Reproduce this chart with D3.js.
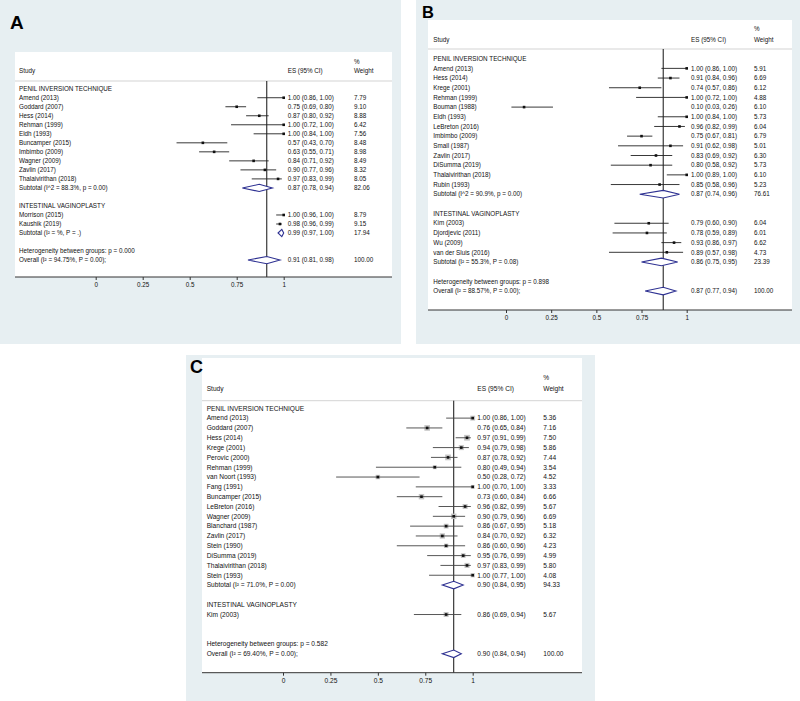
<!DOCTYPE html>
<html>
<head>
<meta charset="utf-8">
<script src="https://cdn.jsdelivr.net/npm/d3@7"></script>
<style>
  body { margin: 0; background: #fff; }
  svg { display: block; }
  text { font-family: "Liberation Sans", Arial, sans-serif; fill: #111; }
</style>
</head>
<body>
<div id="chart"></div>
<script>
// ---- data: [study, ES, lower, upper, % weight] ----
const groupNames = ["PENIL INVERSION TECHNIQUE", "INTESTINAL VAGINOPLASTY"];
const tickValues = [0, 0.25, 0.5, 0.75, 1];
const tickLabels = ["0", "0.25", "0.5", "0.75", "1"];

// panel A
const penileA = [
  ["Amend (2013)", 1.00, 0.86, 1.00, 7.79],
  ["Goddard (2007)", 0.75, 0.69, 0.80, 9.10],
  ["Hess (2014)", 0.87, 0.80, 0.92, 8.88],
  ["Rehman (1999)", 1.00, 0.72, 1.00, 6.42],
  ["Eldh (1993)", 1.00, 0.84, 1.00, 7.56],
  ["Buncamper (2015)", 0.57, 0.43, 0.70, 8.48],
  ["Imbimbo (2009)", 0.63, 0.55, 0.71, 8.98],
  ["Wagner (2009)", 0.84, 0.71, 0.92, 8.49],
  ["Zavlin (2017)", 0.90, 0.77, 0.96, 8.32],
  ["Thalaivirithan (2018)", 0.97, 0.83, 0.99, 8.05]
];
const intestinalA = [
  ["Morrison (2015)", 1.00, 0.96, 1.00, 8.79],
  ["Kaushik (2019)", 0.98, 0.96, 0.99, 9.15]
];
const subtotalsA = [
  ["Subtotal  (I^2 = 88.3%, p = 0.00)", 0.87, 0.78, 0.94, 82.06],
  ["Subtotal  (I² = %, P = .)", 0.99, 0.97, 1.00, 17.94]
];
const overallA = ["Overall  (I² = 94.75%, P = 0.00);", 0.91, 0.81, 0.98, 100.00];
const hetA = "Heterogeneity between groups: p = 0.000";

// panel B
const penileB = [
  ["Amend (2013)", 1.00, 0.86, 1.00, 5.91],
  ["Hess (2014)", 0.91, 0.84, 0.96, 6.69],
  ["Krege (2001)", 0.74, 0.57, 0.86, 6.12],
  ["Rehman (1999)", 1.00, 0.72, 1.00, 4.88],
  ["Bouman (1988)", 0.10, 0.03, 0.26, 6.10],
  ["Eldh (1993)", 1.00, 0.84, 1.00, 5.73],
  ["LeBreton (2016)", 0.96, 0.82, 0.99, 6.04],
  ["Imbimbo (2009)", 0.75, 0.67, 0.81, 6.79],
  ["Small (1987)", 0.91, 0.62, 0.98, 5.01],
  ["Zavlin (2017)", 0.83, 0.69, 0.92, 6.30],
  ["DiSumma (2019)", 0.80, 0.58, 0.92, 5.73],
  ["Thalaivirithan (2018)", 1.00, 0.89, 1.00, 6.10],
  ["Rubin (1993)", 0.85, 0.58, 0.96, 5.23]
];
const intestinalB = [
  ["Kim (2003)", 0.79, 0.60, 0.90, 6.04],
  ["Djordjevic  (2011)", 0.78, 0.59, 0.89, 6.01],
  ["Wu (2009)", 0.93, 0.86, 0.97, 6.62],
  ["van der Sluis (2016)", 0.89, 0.57, 0.98, 4.73]
];
const subtotalsB = [
  ["Subtotal  (I^2 = 90.9%, p = 0.00)", 0.87, 0.74, 0.96, 76.61],
  ["Subtotal  (I² = 55.3%, P = 0.08)", 0.86, 0.75, 0.95, 23.39]
];
const overallB = ["Overall  (I² = 88.57%, P = 0.00);", 0.87, 0.77, 0.94, 100.00];
const hetB = "Heterogeneity between groups: p = 0.898";

// panel C
const penileC = [
  ["Amend (2013)", 1.00, 0.86, 1.00, 5.36],
  ["Goddard (2007)", 0.76, 0.65, 0.84, 7.16],
  ["Hess (2014)", 0.97, 0.91, 0.99, 7.50],
  ["Krege (2001)", 0.94, 0.79, 0.98, 5.86],
  ["Perovic (2000)", 0.87, 0.78, 0.92, 7.44],
  ["Rehman (1999)", 0.80, 0.49, 0.94, 3.54],
  ["van Noort (1993)", 0.50, 0.28, 0.72, 4.52],
  ["Fang (1991)", 1.00, 0.70, 1.00, 3.33],
  ["Buncamper (2015)", 0.73, 0.60, 0.84, 6.66],
  ["LeBreton (2016)", 0.96, 0.82, 0.99, 5.67],
  ["Wagner (2009)", 0.90, 0.79, 0.96, 6.69],
  ["Blanchard (1987)", 0.86, 0.67, 0.95, 5.18],
  ["Zavlin (2017)", 0.84, 0.70, 0.92, 6.32],
  ["Stein (1990)", 0.86, 0.60, 0.96, 4.23],
  ["DiSumma (2019)", 0.95, 0.76, 0.99, 4.99],
  ["Thalaivirithan (2018)", 0.97, 0.83, 0.99, 5.80],
  ["Stein (1993)", 1.00, 0.77, 1.00, 4.08]
];
const intestinalC = [
  ["Kim (2003)", 0.86, 0.69, 0.94, 5.67]
];
const subtotalsC = [
  ["Subtotal  (I² = 71.0%, P = 0.00)", 0.90, 0.84, 0.95, 94.33],
  null
];
const overallC = ["Overall  (I² = 69.40%, P = 0.00);", 0.90, 0.84, 0.94, 100.00];
const hetC = "Heterogeneity between groups: p = 0.582";

// ---- drawing ----
const W = 800, H = 701;
const panelBg = "#e7eff2";
const diamondColor = "#2e3192";
const f2 = d3.format(".2f");

const svg = d3.select("#chart").append("svg")
    .attr("width", W)
    .attr("height", H);

function buildRows(groups, subtotals, het, overall) {
  const rows = [];
  groups.forEach(function(g, gi) {
    rows.push({type: "title", label: groupNames[gi]});
    g.forEach(d => rows.push({type: "study", d: d}));
    rows.push(subtotals[gi] ? {type: "sum", d: subtotals[gi]} : {type: "blank"});
    rows.push({type: "blank"});
  });
  rows.push({type: "het", label: het});
  rows.push({type: "sum", d: overall});
  return rows;
}

function drawPanel(p) {
  const g = svg.append("g");
  g.append("rect").attr("x", p.bg[0]).attr("y", p.bg[1])
      .attr("width", p.bg[2] - p.bg[0]).attr("height", p.bg[3] - p.bg[1])
      .attr("fill", panelBg);
  g.append("rect").attr("x", p.box[0]).attr("y", p.box[1])
      .attr("width", p.box[2] - p.box[0]).attr("height", p.box[3] - p.box[1])
      .attr("fill", "#fff");
  g.append("text").attr("x", p.label[0]).attr("y", p.label[1])
      .attr("font-size", p.label[2]).attr("font-weight", "bold")
      .style("fill", "#000").text(p.name);

  const x = d3.scaleLinear().domain([0, 1]).range(p.xr);
  const rows = buildRows(p.groups, p.subtotals, p.het, p.overall);
  const y = d3.scaleLinear().domain([0, 1]).range([p.row0, p.row0 + p.step]);
  const fs = p.fs;

  // header
  const hdr = g.append("g").attr("font-size", fs);
  hdr.append("text").attr("x", p.textX).attr("y", p.headY).attr("dy", "0.35em").text("Study");
  hdr.append("text").attr("x", p.esX).attr("y", p.headY).attr("dy", "0.35em").text("ES (95% CI)");
  hdr.append("text").attr("x", p.wtX).attr("y", p.pctY).attr("dy", "0.35em").text("%");
  hdr.append("text").attr("x", p.wtX).attr("y", p.headY).attr("dy", "0.35em").text("Weight");
  g.append("line").attr("x1", p.box[0]).attr("x2", p.box[2])
      .attr("y1", p.sepY).attr("y2", p.sepY)
      .attr("stroke", "#c8c8c8").attr("stroke-width", 0.8);

  // reference line at the overall estimate
  g.append("line").attr("x1", x(p.overall[1])).attr("x2", x(p.overall[1]))
      .attr("y1", p.sepY).attr("y2", p.axisY)
      .attr("stroke", "#111").attr("stroke-width", 1);

  const body = g.append("g").attr("font-size", fs);
  rows.forEach(function(r, i) {
    const yy = y(i);
    if (r.type === "title" || r.type === "het") {
      body.append("text").attr("x", p.textX).attr("y", yy).attr("dy", "0.35em").text(r.label);
      return;
    }
    if (r.type === "blank") return;
    const d = r.d;
    body.append("text").attr("x", p.textX).attr("y", yy).attr("dy", "0.35em").text(d[0]);
    body.append("text").attr("x", p.esX).attr("y", yy).attr("dy", "0.35em")
        .text(f2(d[1]) + " (" + f2(d[2]) + ", " + f2(d[3]) + ")");
    body.append("text").attr("x", p.wtX).attr("y", yy).attr("dy", "0.35em").text(f2(d[4]));
    if (r.type === "study") {
      if (p.boxes) {
        const s = 2.1 * Math.sqrt(d[4]);
        body.append("rect").attr("x", x(d[1]) - s / 2).attr("y", yy - s / 2)
            .attr("width", s).attr("height", s).attr("fill", "#c4c4c4");
      }
      body.append("line").attr("x1", x(d[2])).attr("x2", x(d[3]))
          .attr("y1", yy).attr("y2", yy)
          .attr("stroke", p.boxes ? "#444" : "#222").attr("stroke-width", 0.9);
      body.append("rect").attr("x", x(d[1]) - 1.3).attr("y", yy - 1.3)
          .attr("width", 2.6).attr("height", 2.6).attr("fill", "#111");
    } else {
      const h = p.dh;
      const pts = [[x(d[2]), yy], [x(d[1]), yy - h], [x(d[3]), yy], [x(d[1]), yy + h]];
      body.append("path").attr("d", d3.line()(pts) + "Z")
          .attr("fill", "#fff").attr("stroke", diamondColor).attr("stroke-width", 1.1);
    }
  });

  // x axis
  const axisG = g.append("g").attr("transform", "translate(0," + p.axisY + ")");
  axisG.append("line").attr("x1", p.box[0]).attr("x2", p.box[2])
      .attr("stroke", "#333").attr("stroke-width", 1);
  const ax = d3.axisBottom(x).tickValues(tickValues)
      .tickFormat((v, i) => tickLabels[i]).tickSize(3).tickPadding(3);
  axisG.call(ax);
  axisG.select(".domain").remove();
  axisG.selectAll(".tick line").attr("stroke", "#333");
  axisG.selectAll(".tick text").attr("font-size", fs)
      .attr("font-family", "Liberation Sans, Arial, sans-serif").style("fill", "#111");
}

drawPanel({
  name: "A", bg: [0, 0, 401, 344], box: [15, 52, 392, 277], label: [10, 29, 19],
  xr: [95.7, 283.7], row0: 88.7, step: 9.02, headY: 70.7, pctY: 61.7, sepY: 81,
  axisY: 277, textX: 19, esX: 287.7, wtX: 354, fs: 6.3, dh: 3.6, boxes: false,
  groups: [penileA, intestinalA], subtotals: subtotalsA, het: hetA, overall: overallA
});
drawPanel({
  name: "B", bg: [416, 0, 800, 344], box: [428, 20, 792, 310], label: [422, 17.5, 16.5],
  xr: [506, 686.7], row0: 58.7, step: 9.68, headY: 39.3, pctY: 28.3, sepY: 49,
  axisY: 310, textX: 433.3, esX: 691, wtX: 754, fs: 6.3, dh: 3.8, boxes: false,
  groups: [penileB, intestinalB], subtotals: subtotalsB, het: hetB, overall: overallB
});
drawPanel({
  name: "C", bg: [186, 355, 595, 701], box: [202, 358, 582, 673], label: [190, 373, 18],
  xr: [283, 472.7], row0: 408.3, step: 9.82, headY: 389, pctY: 378, sepY: 400.7,
  axisY: 672.7, textX: 206.7, esX: 477.3, wtX: 543.3, fs: 6.6, dh: 3.8, boxes: true,
  groups: [penileC, intestinalC], subtotals: subtotalsC, het: hetC, overall: overallC
});
</script>
</body>
</html>
